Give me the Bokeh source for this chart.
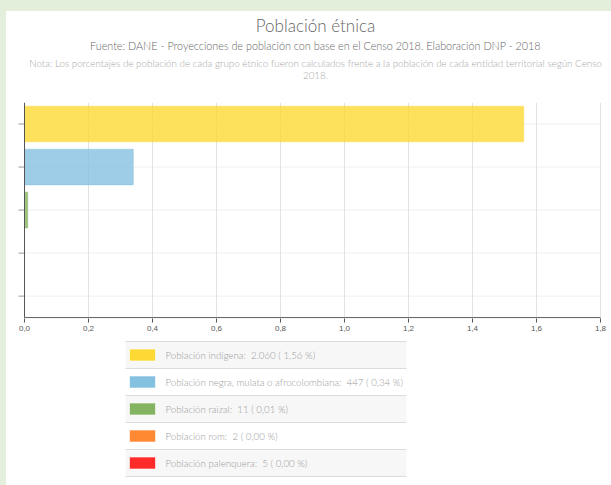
from bokeh.plotting import figure
from bokeh.layouts import column, row
from bokeh.models import Range1d, CustomJSTickFormatter, FixedTicker, ColumnDataSource, Spacer
from bokeh.core.properties import value
from bokeh.embed import file_html
from bokeh.resources import INLINE

# ---------------- data ----------------
categories = ["Población indígena", "Población negra, mulata o afrocolombiana",
              "Población raizal", "Población rom", "Población palenquera"]
counts = [2060, 447, 11, 2, 5]
percents = [1.56, 0.34, 0.01, 0.00, 0.00]
colors = ["#fcd935", "#84c1e1", "#84b461", "#ff8833", "#ff2a2a"]
x_ticks = [0.0, 0.2, 0.4, 0.6, 0.8, 1.0, 1.2, 1.4, 1.6, 1.8]

title_text = "Población étnica"
subtitle_text = "Fuente: DANE - Proyecciones de población con base en el Censo 2018. Elaboración DNP - 2018"
note_lines = ["Nota: Los porcentajes de población de cada grupo étnico fueron calculados frente a la población de cada entidad territorial según Censo",
              "2018."]

FONT = "Lato Light, Lato"
PAGE_BG = "#e3efda"
X0, Y0 = 6, 11          # white panel origin on the page
W = 611 - X0

def blank(fig):
    fig.axis.visible = False
    fig.grid.visible = False
    fig.outline_line_color = None
    fig.background_fill_color = "white"
    fig.border_fill_color = "white"
    fig.min_border_left = 0
    fig.min_border_right = 0
    fig.min_border_top = 0
    fig.min_border_bottom = 0

# ---------------- header ----------------
H_HEAD = 102 - Y0
head = figure(width=W, height=H_HEAD, x_range=Range1d(X0, X0 + W), y_range=Range1d(Y0 + H_HEAD, Y0),
              output_backend="svg", toolbar_location=None)
blank(head)
cx = 315
head.text(x=[cx], y=[25], text=[title_text], text_font=value(FONT), text_font_size="17px",
          text_color="#666666", text_align="center", text_baseline="middle")
head.text(x=[cx], y=[45], text=[subtitle_text], text_font=value(FONT), text_font_size="10.8px",
          text_color="#666666", text_align="center", text_baseline="middle")
head.text(x=[cx, cx], y=[62, 75], text=note_lines, text_font=value(FONT), text_font_size="9.8px",
          text_color="#a8a8a8", text_align="center", text_baseline="middle")

# ---------------- chart ----------------
H_CHART = 340 - 102
n = len(categories)
PX = 320.0                       # pixels per unit on the x axis (0 -> page x 24, 1.8 -> page x 600)
x_lo = -(24 - X0) / PX
x_hi = 1.8 + (611 - 600) / PX
tick_len = 6 / PX
p = figure(width=W, height=H_CHART, x_range=Range1d(x_lo, x_hi), y_range=Range1d(-0.02, n),
           output_backend="svg", toolbar_location=None)
p.outline_line_color = None
p.border_fill_color = "white"
p.min_border_left = 0
p.min_border_right = 0
p.min_border_top = 0
p.min_border_bottom = 22
ypos = [n - i - 0.5 for i in range(n)]
src = ColumnDataSource(dict(y=ypos, val=percents, color=colors))

p.yaxis.visible = False
p.ygrid.visible = False
p.xgrid.visible = False

# grid lines (inside the plotting area only)
p.segment(x0=[0] * n, x1=[1.8] * n, y0=ypos, y1=ypos, line_color="#efefef", line_width=1)
p.segment(x0=x_ticks[1:], x1=x_ticks[1:], y0=[0] * (len(x_ticks) - 1), y1=[n] * (len(x_ticks) - 1),
          line_color="#e2e2e2", line_width=1)

p.hbar(y="y", left=0, right="val", height=0.83, fill_color="color", fill_alpha=0.8,
       line_color="color", line_alpha=0.45, source=src)

# y axis line, outward ticks and x axis line
p.segment(x0=[-tick_len] * n, x1=[0] * n, y0=ypos, y1=ypos, line_color="#999999", line_width=1)
p.segment(x0=[0, 0], x1=[0, 1.8], y0=[0, 0], y1=[n, 0], line_color="#555555", line_width=1)

p.xaxis.ticker = FixedTicker(ticks=x_ticks)
p.xaxis.formatter = CustomJSTickFormatter(code="return tick.toFixed(1).replace('.', ',');")
p.xaxis.major_label_text_font = "Liberation Sans"
p.xaxis.major_label_text_font_size = "8px"
p.xaxis.major_label_text_color = "#555555"
p.xaxis.major_tick_in = 0
p.xaxis.major_tick_out = 4
p.xaxis.major_label_standoff = 3
p.xaxis.minor_tick_line_color = None
p.xaxis.axis_line_color = None
p.xaxis.major_tick_line_color = "#555555"

# ---------------- legend ----------------
TOP = 340
H_LEG = 485 - TOP
leg = figure(width=W, height=H_LEG, x_range=Range1d(X0, X0 + W), y_range=Range1d(TOP + H_LEG, TOP),
             output_backend="svg", toolbar_location=None)
blank(leg)
row_h = 27
lx0, lx1 = 125, 406
tops = [TOP + 1 + i * row_h for i in range(n)]
bg = ["#f7f7f7" if i % 2 == 0 else "#ffffff" for i in range(n)]
leg.quad(left=lx0, right=lx1, top=tops, bottom=[t + row_h for t in tops], fill_color=bg, line_color=None)
lines_y = [TOP + 1 + i * row_h for i in range(n + 1)]
leg.segment(x0=lx0, x1=lx1, y0=lines_y, y1=lines_y, line_color="#dcdcdc", line_width=1)
centers = [t + row_h / 2 for t in tops]
leg.rect(x=142, y=centers, width=26, height=12, fill_color=colors, line_color="#ffffff", line_alpha=0.6)

def fmt_count(c):
    return f"{c:,}".replace(",", ".")

def fmt_pct(v):
    return format(v, ".2f").replace(".", ",")

labels = [f"{c}:\u00a0 {fmt_count(k)} ( {fmt_pct(pc)} %)" for c, k, pc in zip(categories, counts, percents)]
leg.text(x=165, y=centers, text=labels, text_font=value(FONT), text_font_size="9.7px",
         text_color="#9a9a9a", text_align="left", text_baseline="middle")

top_band = Spacer(width=611, height=Y0, styles={"background-color": PAGE_BG})
left_band = Spacer(width=X0, height=485 - Y0, styles={"background-color": PAGE_BG})
layout = column(top_band, row(left_band, column(head, p, leg, spacing=0), spacing=0), spacing=0)

open("out.html", "w").write(file_html(layout, INLINE))
